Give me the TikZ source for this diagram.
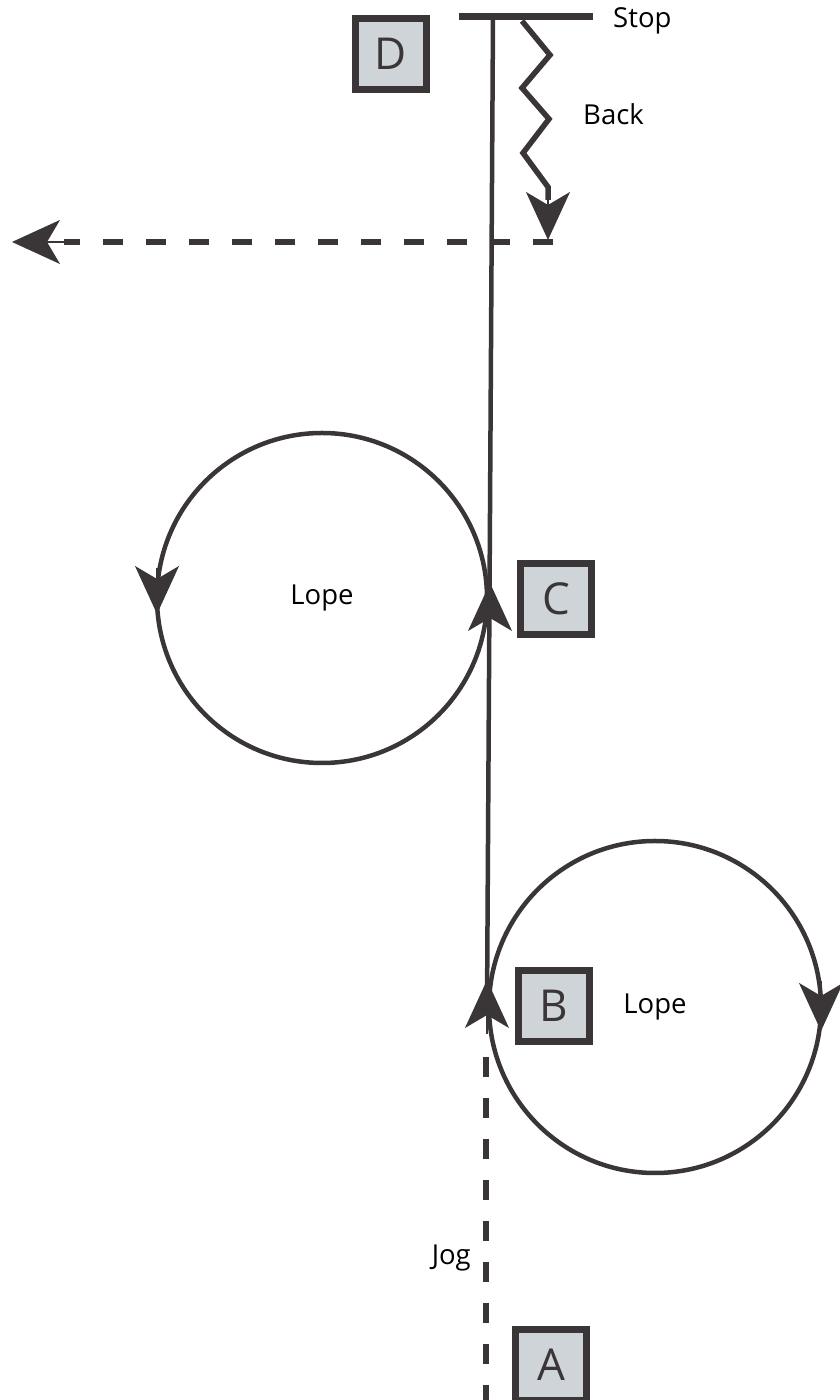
\documentclass[tikz,border=0pt]{standalone}
\usepackage{fontspec}
\setmainfont{Open Sans}
\usetikzlibrary{arrows.meta}
\definecolor{ink}{HTML}{3A3637}
\definecolor{boxfill}{HTML}{CFD4D8}
\begin{document}
\begin{tikzpicture}[x=1pt,y=1pt,
  ln/.style={draw=ink,line width=4.5pt},
  dsh/.style={draw=ink,line width=5.5pt,dash pattern=on 20pt off 21pt},
  letterbox/.style={draw=ink,fill=boxfill,line width=7pt,minimum size=71pt,inner sep=0pt,font=\fontsize{44}{44}\selectfont,text=ink},
  lbl/.style={font=\fontsize{27.5}{27.5}\selectfont,text=black,inner sep=0pt},
  tip/.style={draw=ink,fill=ink,line width=1.5pt,-{Stealth[length=48pt,width=44pt,inset=13pt]}},
  loop/.style={circle,draw=ink,line width=4.5pt,inner sep=0pt,lbl}
]
\useasboundingbox (0,0) rectangle (840,1400);
% stop bar and main line
\coordinate (barL) at (459,1383);
\coordinate (barR) at (593,1383);
\coordinate (top) at (493,1383);
\coordinate (pB) at (487,392);
\draw[draw=ink,line width=7pt] (barL) -- (barR);
\node[lbl,anchor=base west] (stop) at (613,1372) {Stop};
\node[letterbox] (D) at (391,1346) {D};
\draw[ln] (pB) -- (top);
% back zigzag
\coordinate (z0) at (522,1379);
\coordinate (z1) at (550,1345);
\coordinate (z2) at (522,1312);
\coordinate (z3) at (549,1281);
\coordinate (z4) at (523,1247);
\coordinate (z5) at (548,1213);
\coordinate (z6) at (548,1200);
\coordinate (backend) at (548,1160);
\draw[draw=ink,line width=5.5pt,line join=miter] (z0) -- (z1) -- (z2) -- (z3) -- (z4) -- (z5) -- (z6);
\draw[tip] (z6) -- (backend);
\node[lbl,anchor=base west] (back) at (583,1275) {Back};
% exit dashed line
\coordinate (exitR) at (553,1158);
\coordinate (exitM) at (64,1158);
\coordinate (exit) at (12,1158);
\draw[dsh,dash pattern=on 20pt off 23pt] (exitR) -- (exitM);
\draw[tip] (exitM) -- (exit);
% loop C
\node[loop,minimum size=330pt] (loopC) at (322,802) {Lope};
\node[letterbox] (C) at (556,801) {C};
\draw[tip] (157,832) -- (157,786);
\draw[tip] (490,770) -- (490,817);
% loop B
\node[loop,minimum size=332pt] (loopB) at (655,393) {Lope};
\node[letterbox] (B) at (554,394) {B};
\draw[tip] (821,419) -- (821,369);
\draw[tip] (487,366) -- (487,420);
% jog
\coordinate (jogtop) at (486,343);
\coordinate (jogbot) at (486,-4);
\draw[dsh] (jogtop) -- (jogbot);
\node[lbl,anchor=base east] (jog) at (471,135) {Jog};
\node[letterbox] (A) at (551,35) {A};
\end{tikzpicture}
\end{document}
